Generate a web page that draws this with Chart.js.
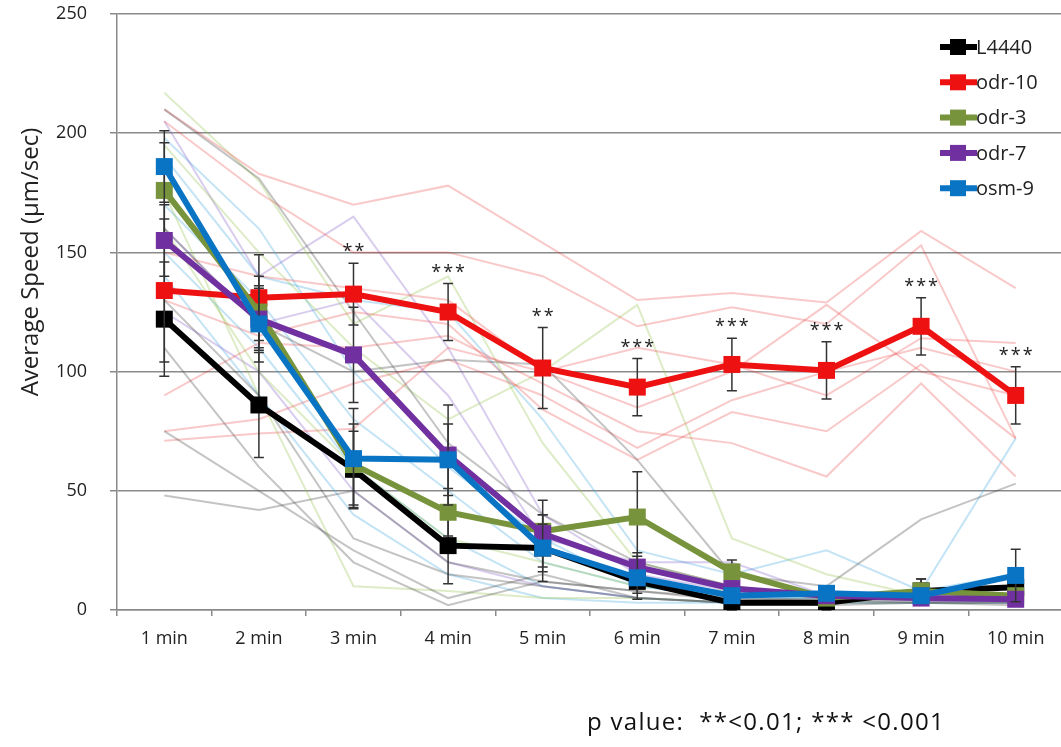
<!DOCTYPE html>
<html><head><meta charset="utf-8">
<script src="https://cdn.jsdelivr.net/npm/chart.js@4.4.1/dist/chart.umd.min.js"></script>
<style>
html,body{margin:0;padding:0;background:#fff;overflow:hidden;width:1061px;height:747px}
#wrap{position:relative;width:1075px;height:747px}
</style></head>
<body><div id="wrap"><canvas id="c" width="1075" height="747"></canvas></div>
<script>
// ---- data ----
const minutes = ['1 min','2 min','3 min','4 min','5 min','6 min','7 min','8 min','9 min','10 min'];
const yTicks = [0, 50, 100, 150, 200, 250];
const seriesNames = ['L4440','odr-10','odr-3','odr-7','osm-9'];

const l4440 = [122, 86, 59, 27, 26, 12, 3, 3, 8, 9.5];
const l4440Err = [24, 22, 16, 16, 14, 5, 3, 3, 5, 4];
const odr10 = [134, 131, 132.5, 125, 101.5, 93.5, 103, 100.5, 119, 90];
const odr10Err = [30, 18, 13, 12, 17, 12, 11, 12, 12, 12];
const odr3 = [176, 125, 61, 41, 33, 39, 16, 5, 8, 6];
const odr3Err = [20, 15, 17, 10, 7, 19, 5, 3, 5, 3];
const odr7 = [155, 122, 107, 65, 32, 18, 9, 6, 5, 4.5];
const odr7Err = [15, 13, 20, 21, 14, 6, 3, 2, 2, 2];
const osm9 = [186, 120, 63.5, 63, 26, 13.5, 6, 7, 6, 14.5];
const osm9Err = [15, 16, 21, 15, 10, 9, 3, 3, 3, 11];

const sigLabels = ['', '', '**', '***', '**', '***', '***', '***', '***', '***'];
const pNote = 'p value:  **<0.01; *** <0.001';
const yTitle = 'Average Speed (\u00B5m/sec)';

// individual worm traces (faint lines)
const l4440Traces = [
  [210, 181, 125, 70, 40, 20, 10, 5, 5, 5],
  [160, 120, 100, 105, 103, 63, 15, 10, 38, 53],
  [75, 50, 25, 5, 15, 5, 3, 2, 3, 3],
  [48, 42, 50, 20, 12, 8, 5, 4, 4, 4],
  [130, 90, 30, 15, 10, 5, 3, 4, 3, 2],
  [110, 60, 20, 2, 12, 8, 4, 5, 8, 10]
];
const odr10Traces = [
  [210, 183, 170, 178, 154, 130, 133, 129, 159, 135],
  [205, 175, 150, 150, 140, 119, 127, 120, 153, 72],
  [150, 140, 135, 130, 100, 110, 103, 90, 114, 112],
  [130, 115, 125, 120, 84, 63, 83, 75, 103, 72],
  [90, 112, 110, 115, 95, 75, 70, 56, 95, 56],
  [71, 74, 76, 110, 100, 85, 100, 128, 100, 90],
  [75, 80, 95, 105, 90, 68, 88, 100, 110, 100]
];
const odr3Traces = [
  [217, 180, 120, 140, 70, 20, 10, 5, 5, 5],
  [195, 150, 110, 80, 100, 128, 30, 15, 6, 6],
  [175, 90, 10, 8, 5, 5, 3, 3, 3, 3],
  [160, 100, 60, 30, 20, 10, 8, 5, 8, 5]
];
const odr7Traces = [
  [205, 140, 165, 110, 40, 15, 8, 5, 4, 3],
  [160, 120, 130, 90, 30, 20, 20, 6, 4, 4],
  [125, 100, 50, 20, 10, 5, 3, 3, 3, 3]
];
const osm9Traces = [
  [198, 160, 100, 60, 30, 10, 5, 5, 8, 72],
  [190, 140, 130, 125, 80, 25, 15, 25, 8, 15],
  [170, 130, 80, 50, 20, 10, 6, 5, 5, 5],
  [150, 110, 60, 30, 10, 5, 3, 3, 3, 3],
  [140, 90, 40, 15, 5, 3, 3, 3, 3, 3]
];

// ---- styles ----
const FONT = "'Open Sans', 'Liberation Sans', sans-serif";
const colors = ['#000000', '#ee1111', '#77933c', '#7030a0', '#0a74c4'];
const faintColors = ['rgba(70,70,70,0.32)', 'rgba(235,60,60,0.28)', 'rgba(150,195,80,0.32)', 'rgba(130,90,200,0.30)', 'rgba(70,170,225,0.32)'];

const mainData = [l4440, odr10, odr3, odr7, osm9];
const mainErr = [l4440Err, odr10Err, odr3Err, odr7Err, osm9Err];
const traceGroups = [l4440Traces, odr10Traces, odr3Traces, odr7Traces, osm9Traces];

const datasets = [];
mainData.forEach((d, i) => {
  datasets.push({
    label: seriesNames[i], data: d, errors: mainErr[i],
    borderColor: colors[i], backgroundColor: colors[i],
    borderWidth: 6, pointStyle: 'rect', pointRadius: 12, pointBorderWidth: 0,
    tension: 0, order: 4 - i
  });
});
traceGroups.forEach((g, gi) => {
  g.forEach(t => {
    datasets.push({
      label: '_trace', data: t, borderColor: faintColors[gi], borderWidth: 2,
      pointRadius: 0, tension: 0, order: 20
    });
  });
});

const errPlugin = {
  id: 'errbars',
  beforeDatasetDraw(chart, args) {
    const ds = chart.data.datasets[args.index];
    if (!ds.errors) return;
    const y = chart.scales.y, ctx = chart.ctx;
    ctx.save();
    ctx.strokeStyle = '#333';
    ctx.lineWidth = 1.5;
    args.meta.data.forEach((pt, i) => {
      const v = ds.data[i], e = ds.errors[i];
      const x = pt.x, yt = y.getPixelForValue(v + e), yb = y.getPixelForValue(v - e);
      ctx.beginPath();
      ctx.moveTo(x, yt); ctx.lineTo(x, yb);
      ctx.moveTo(x - 5, yt); ctx.lineTo(x + 5, yt);
      ctx.moveTo(x - 5, yb); ctx.lineTo(x + 5, yb);
      ctx.stroke();
    });
    ctx.restore();
  }
};

const textPlugin = {
  id: 'texts',
  afterDraw(chart) {
    const ctx = chart.ctx, xs = chart.scales.x, ys = chart.scales.y;
    ctx.save();
    // significance stars
    ctx.fillStyle = '#222';
    ctx.font = '18px ' + FONT;
    ctx.textAlign = 'center';
    ctx.textBaseline = 'middle';
    try { ctx.letterSpacing = '2px'; } catch (e) {}
    sigLabels.forEach((s, i) => {
      if (!s) return;
      const x = xs.getPixelForValue(i) + 1;
      const yy = ys.getPixelForValue(odr10[i] + odr10Err[i]) - 11;
      ctx.fillText(s, x, yy);
    });
    try { ctx.letterSpacing = '0px'; } catch (e) {}
    // legend
    const lx = 940, ly0 = 47, step = 35.3;
    seriesNames.forEach((n, i) => {
      const yy = ly0 + i * step;
      ctx.strokeStyle = colors[i];
      ctx.lineWidth = 6;
      ctx.beginPath(); ctx.moveTo(lx, yy); ctx.lineTo(lx + 37, yy); ctx.stroke();
      ctx.fillStyle = colors[i];
      ctx.fillRect(lx + 18 - 8, yy - 8, 16, 16);
      ctx.fillStyle = '#222';
      ctx.font = '20px ' + FONT;
      ctx.textAlign = 'left';
      ctx.textBaseline = 'middle';
      ctx.fillText(n, lx + 36, yy + 1);
    });
    // y title
    ctx.save();
    ctx.translate(31, 262);
    ctx.rotate(-Math.PI / 2);
    ctx.font = '24px ' + FONT;
    ctx.fillStyle = '#222';
    ctx.textAlign = 'center';
    ctx.textBaseline = 'middle';
    ctx.fillText(yTitle, 0, 0);
    ctx.restore();
    // p note
    ctx.font = '24px ' + FONT;
    ctx.fillStyle = '#111';
    ctx.textAlign = 'left';
    ctx.textBaseline = 'middle';
    try { ctx.letterSpacing = '1.3px'; } catch (e) {}
    ctx.fillText(pNote, 587, 723);
    ctx.restore();
  }
};

new Chart(document.getElementById('c'), {
  type: 'line',
  data: { labels: minutes, datasets },
  options: {
    responsive: false, animation: false,
    layout: { padding: { top: 14, right: 5, left: 0, bottom: 0 } },
    plugins: { legend: { display: false }, tooltip: { enabled: false } },
    scales: {
      x: {
        offset: true,
        grid: { offset: true, drawOnChartArea: false, drawTicks: true, tickLength: 6, color: '#8a8a8a', lineWidth: 1.5 },
        border: { color: '#8a8a8a', width: 1.5 },
        ticks: { color: '#222', font: { family: FONT, size: 18 }, padding: 12, maxRotation: 0 },
        afterFit(s) { s.height = 137; s.paddingLeft = 0; s.paddingRight = 0; }
      },
      y: {
        min: 0, max: 250,
        afterBuildTicks(s) { s.ticks = yTicks.map(v => ({ value: v })); },
        grid: { color: '#8a8a8a', lineWidth: 1.5, tickLength: 7 },
        border: { color: '#8a8a8a', width: 1.5 },
        ticks: { color: '#222', font: { family: FONT, size: 18 }, padding: 23 },
        afterFit(s) { s.width = 117; s.paddingTop = 0; s.paddingBottom = 0; }
      }
    }
  },
  plugins: [errPlugin, textPlugin]
});
</script>
</body></html>
